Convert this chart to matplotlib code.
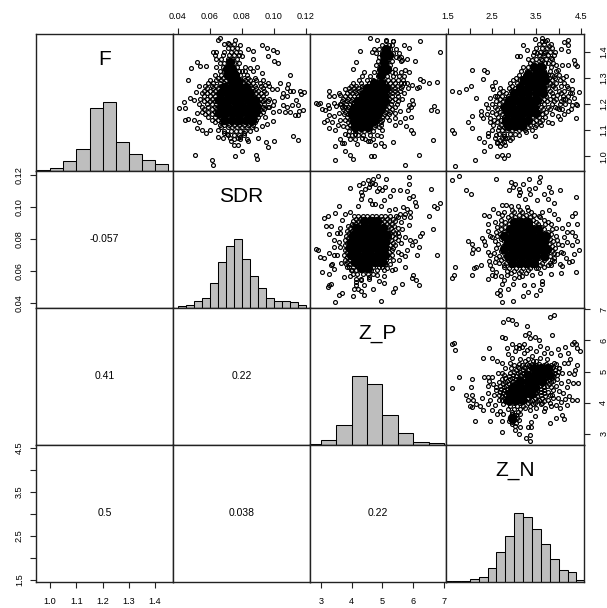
import matplotlib
matplotlib.use("Agg")
import matplotlib.pyplot as plt

plt.rcParams['font.family'] = ['Liberation Sans', 'DejaVu Sans']

names = ["F", "SDR", "Z_P", "Z_N"]
corr_f_sdr = "-0.057"
corr_f_zp = "0.41"
corr_f_zn = "0.5"
corr_sdr_zp = "0.22"
corr_sdr_zn = "0.038"
corr_zp_zn = "0.22"

# axis ranges
f_lim = (0.945, 1.468)
sdr_lim = (0.0369, 0.1225)
zp_lim = (2.65, 7.05)
zn_lim = (1.455, 4.57)

f_ticks = [1.0, 1.1, 1.2, 1.3, 1.4]
f_labels = ["1.0", "1.1", "1.2", "1.3", "1.4"]
sdr_ticks = [0.04, 0.06, 0.08, 0.10, 0.12]
sdr_labels = ["0.04", "0.06", "0.08", "0.10", "0.12"]
zp_ticks = [3, 4, 5, 6, 7]
zp_labels = ["3", "4", "5", "6", "7"]
zn_ticks = [1.5, 2.0, 2.5, 3.0, 3.5, 4.0, 4.5]
zn_labels = ["1.5", "", "2.5", "", "3.5", "", "4.5"]

# histograms
f_edges = [0.95, 1.0, 1.05, 1.1, 1.15, 1.2, 1.25, 1.3, 1.35, 1.4, 1.45]
f_counts = [2, 8, 30, 66, 186, 204, 86, 50, 33, 19]
sdr_edges = [0.04, 0.045, 0.05, 0.055, 0.06, 0.065, 0.07, 0.075, 0.08, 0.085,
             0.09, 0.095, 0.1, 0.105, 0.11, 0.115, 0.12]
sdr_counts = [5, 9, 20, 28, 72, 134, 183, 203, 144, 94, 58, 28, 20, 20, 17, 8]
zp_edges = [2.5, 3.0, 3.5, 4.0, 4.5, 5.0, 5.5, 6.0, 6.5, 7.0]
zp_counts = [3, 13, 60, 206, 182, 88, 36, 8, 5]
zn_edges = [1.4, 1.6, 1.8, 2.0, 2.2, 2.4, 2.6, 2.8, 3.0, 3.2, 3.4, 3.6, 3.8, 4.0, 4.2, 4.4, 4.6]
zn_counts = [1, 1, 2, 9, 15, 40, 89, 138, 207, 195, 160, 115, 69, 34, 28, 5]

# scatter: sparse points read one at a time, (x, y)
sdr_f_pts = [(.0663,1.452),(.0652,1.445),(.0756,1.445),(.0715,1.433),(.0788,1.426),(.084,1.410),(.0871,1.401),(.0923,1.426),
    (.0954,1.414),(.0996,1.407),(.1021,1.397),(.096,1.382),(.1002,1.363),(.1027,1.356),(.0798,1.384),(.0867,1.372),(.0621,1.397),
    (.0517,1.360),(.0538,1.346),(.0479,1.337),(.0575,1.344),(.0465,1.290),(.0533,1.267),(.0513,1.244),(.0475,1.223),(.05,1.214),
    (.044,1.206),(.0408,1.185),(.0444,1.185),(.0521,1.165),(.0446,1.140),(.0465,1.144),(.05,1.137),(.0533,1.130),(.0517,1.108),
    (.0552,1.102),(.0573,1.089),(.06,1.102),(.0648,1.073),(.0683,1.070),(.0506,1.005),(.0615,.984),(.0621,.965),(.0756,1.003),
    (.0885,1.006),(.0896,.990),(.0798,1.019),(.0777,1.045),(.095,1.054),(.096,1.036),(.0998,1.057),(.1117,1.079),(.1152,1.061),
    (.0902,1.069),(.0996,1.134),(.11,1.309),(.1038,1.280),(.109,1.276),(.1083,1.261),(.11,1.251),(.1121,1.248),(.1163,1.251),
    (.119,1.244),(.1169,1.239),(.1058,1.242),(.1079,1.229),(.1048,1.225),(.1138,1.213),(.111,1.197),(.1058,1.194),(.1083,1.188),
    (.1148,1.194),(.1183,1.176),(.1158,1.172),(.1131,1.159),(.1152,1.159),(.1069,1.168),(.11,1.168),(.1033,1.174),(.0996,1.168),
    (.0992,1.197),(.1017,1.255),(.0985,1.255),(.0965,1.280),(.0971,1.267),(.0944,1.274),(.0923,1.318),(.0892,1.341),(.0929,1.293),
    (.085,1.337),(.0819,1.325),(.0733,1.06),(.0752,1.045),(.0705,1.085),(.0785,1.075),(.084,1.06),(.0815,1.09),(.0888,1.105),
    (.0925,1.115),(.0955,1.125),(.0945,1.15),(.097,1.19),(.1,1.21),(.0648,1.10),(.0685,1.09),(.0725,1.07),(.0775,1.07)]
sdr_f_core = {
    1.43: [.069, .072, .075], 1.415: [.071, .074, .077], 1.40: [.064, .069, .073, .076, .079],
    1.385: [.063, .068, .072, .075, .078], 1.37: [.064, .067, .071, .074, .077], 1.355: [.066, .069, .072, .075, .078],
    1.34: [.064, .068, .071, .074, .077, .082], 1.325: [.066, .069, .072, .075, .078, .080, .087],
    1.31: [.063, .067, .070, .073, .076, .079, .083], 1.30: [.065, .068, .071, .074, .077, .081, .084, .088],
    1.29: [.060, .064, .067, .070, .073, .076, .079, .082, .085, .089],
    1.28: [.059, .062, .066, .069, .072, .075, .078, .081, .084, .087, .091],
    1.27: [.057, .061, .064, .067, .070, .073, .076, .079, .082, .085, .088, .092],
    1.26: [.058, .062, .065, .068, .071, .074, .077, .080, .083, .086, .089, .093],
    1.25: [.056, .060, .063, .066, .069, .072, .075, .078, .081, .084, .087, .090, .094],
    1.24: [.055, .058, .062, .065, .068, .071, .074, .077, .080, .083, .086, .089, .092, .095],
    1.23: [.056, .060, .063, .066, .069, .072, .075, .078, .081, .084, .087, .090, .093],
    1.22: [.054, .058, .061, .064, .067, .070, .073, .076, .079, .082, .085, .088, .091, .094, .097],
    1.21: [.056, .060, .063, .066, .069, .072, .075, .078, .081, .084, .087, .090, .093, .096],
    1.20: [.053, .058, .061, .064, .067, .070, .073, .076, .079, .082, .085, .088, .091, .094],
    1.19: [.055, .059, .063, .066, .069, .072, .075, .078, .081, .084, .087, .090, .093, .096],
    1.18: [.056, .061, .064, .067, .070, .073, .076, .079, .082, .085, .088, .091, .094],
    1.17: [.055, .059, .063, .066, .069, .072, .075, .078, .081, .084, .087, .090, .093],
    1.16: [.057, .061, .064, .067, .070, .073, .076, .079, .082, .085, .088, .091],
    1.15: [.059, .063, .066, .069, .072, .075, .078, .081, .084, .087, .090],
    1.14: [.061, .065, .068, .071, .074, .077, .080, .083, .086, .089],
    1.13: [.063, .067, .070, .073, .076, .079, .082, .085, .088],
    1.12: [.066, .069, .072, .075, .078, .081, .084, .087],
    1.11: [.067, .071, .074, .077, .080, .083, .086],
    1.095: [.069, .073, .076, .079, .082, .085], 1.08: [.071, .075, .078, .081], 1.065: [.075, .079, .083]}
# the overplotted black middle of each cloud, rows of y -> x
sdr_f_dense = {
    1.36: [.0725], 1.335: [.0735, .0705], 1.31: [.0715, .0755],
    1.285: [.0735, .0775], 1.265: [.069, .0735, .078, .0825], 1.24: [.067, .0715, .076, .0805, .085],
    1.215: [.0655, .07, .0745, .079, .0835, .088], 1.19: [.067, .0715, .076, .0805, .085, .0895],
    1.165: [.0655, .07, .0745, .079, .0835, .088], 1.14: [.069, .0735, .078, .0825, .086]}

zp_f_pts = [(4.59,1.452),(4.84,1.445),(5.12,1.445),(5.34,1.442),(6.23,1.442),(6.86,1.397),(5.70,1.426),(5.88,1.414),(4.26,1.401),
    (4.67,1.397),(4.13,1.360),(4.04,1.335),(5.80,1.372),(6.07,1.363),(6.23,1.295),(6.31,1.286),(6.51,1.280),(6.79,1.284),(6.12,1.261),
    (3.26,1.251),(3.26,1.229),(3.43,1.229),(3.59,1.242),(3.78,1.255),(3.64,1.233),(2.83,1.204),(2.99,1.204),(2.92,1.201),(3.05,1.181),
    (3.24,1.197),(3.43,1.204),(3.13,1.176),(3.28,1.185),(3.48,1.191),(3.10,1.130),(3.21,1.138),(3.37,1.130),(3.28,1.108),(3.45,1.102),
    (3.26,1.159),(3.43,1.155),(3.59,1.165),(3.64,1.066),(3.78,1.087),(3.69,1.051),(3.45,1.038),(3.75,1.051),(3.80,1.019),(3.94,1.006),
    (4.04,.990),(3.45,.984),(4.18,1.047),(4.34,1.070),(4.53,1.057),(4.61,1.057),(4.77,1.042),(4.97,1.076),(4.94,1.051),(4.99,1.102),
    (5.33,1.056),(4.64,1.003),(4.72,1.003),(5.74,.966),(6.18,1.005),(6.66,1.064),(5.40,1.121),(5.58,1.130),(5.77,1.115),(5.94,1.102),
    (5.98,1.089),(5.42,1.146),(5.74,1.146),(5.92,1.149),(6.59,1.178),(6.69,1.191),(6.76,1.171),(5.96,1.216),(5.87,1.197),(6.01,1.201),
    (5.83,1.178),(5.94,1.188),(5.58,1.172),(5.42,1.165),(6.18,1.265),(5.74,1.331),(5.85,1.321),(5.42,1.318),(5.53,1.375),(5.64,1.366),
    (5.96,1.274),(5.69,1.280),(5.05,1.04),(3.55,1.12),(3.62,1.14),(3.7,1.19),(3.62,1.20),(3.72,1.115),(3.9,1.08),(4.1,1.085)]
zp_f_core = {
    1.44: [5.12, 5.34], 1.425: [5.0, 5.2, 5.32], 1.41: [4.72, 4.9, 5.08, 5.25, 5.45], 1.395: [4.78, 5.0, 5.15, 5.35, 5.55],
    1.38: [4.9, 5.05, 5.2, 5.45, 5.62], 1.365: [4.85, 5.0, 5.15, 5.3, 5.6], 1.35: [4.8, 4.95, 5.1, 5.25], 1.335: [4.9, 5.05, 5.2, 5.4],
    1.32: [4.4, 4.72, 4.85, 5.0, 5.15, 5.3, 5.6], 1.305: [4.35, 4.6, 4.85, 5.0, 5.15, 5.35, 5.55, 5.7],
    1.29: [4.25, 4.5, 4.7, 4.88, 5.02, 5.18, 5.35, 5.5, 5.68], 1.28: [4.05, 4.3, 4.55, 4.75, 4.92, 5.08, 5.25, 5.42, 5.6, 5.8],
    1.27: [3.98, 4.15, 4.35, 4.55, 4.7, 4.85, 5.0, 5.15, 5.3, 5.48, 5.65],
    1.26: [3.92, 4.08, 4.22, 4.38, 4.52, 4.66, 4.8, 4.95, 5.1, 5.25, 5.42, 5.6, 5.82],
    1.25: [3.95, 4.1, 4.25, 4.4, 4.55, 4.68, 4.82, 4.96, 5.1, 5.26, 5.42, 5.58],
    1.24: [3.85, 4.0, 4.14, 4.28, 4.42, 4.56, 4.7, 4.84, 4.98, 5.14, 5.3, 5.48, 5.7],
    1.23: [3.8, 3.95, 4.08, 4.2, 4.32, 4.45, 4.58, 4.72, 4.86, 5.0, 5.15, 5.32, 5.5],
    1.22: [3.72, 3.88, 4.02, 4.14, 4.26, 4.38, 4.5, 4.62, 4.76, 4.9, 5.05, 5.22, 5.4, 5.65],
    1.21: [3.7, 3.85, 3.98, 4.1, 4.22, 4.34, 4.46, 4.58, 4.7, 4.84, 4.98, 5.14, 5.3, 5.5],
    1.20: [3.65, 3.82, 3.95, 4.06, 4.18, 4.3, 4.42, 4.54, 4.66, 4.8, 4.94, 5.1, 5.28, 5.48],
    1.19: [3.78, 3.9, 4.02, 4.14, 4.26, 4.38, 4.5, 4.62, 4.76, 4.9, 5.05, 5.22, 5.4],
    1.18: [3.72, 3.86, 3.98, 4.1, 4.22, 4.34, 4.46, 4.58, 4.7, 4.84, 4.98, 5.12, 5.3],
    1.17: [3.8, 3.94, 4.06, 4.18, 4.3, 4.42, 4.54, 4.66, 4.8, 4.94, 5.1, 5.26],
    1.16: [3.75, 3.9, 4.02, 4.14, 4.26, 4.38, 4.5, 4.62, 4.76, 4.9, 5.04, 5.2],
    1.15: [3.85, 3.98, 4.1, 4.22, 4.34, 4.46, 4.58, 4.72, 4.86, 5.0, 5.15],
    1.14: [3.8, 3.94, 4.06, 4.18, 4.3, 4.42, 4.54, 4.68, 4.82, 5.0, 5.2],
    1.13: [3.88, 4.0, 4.14, 4.26, 4.38, 4.5, 4.64, 4.8, 4.95],
    1.12: [3.94, 4.08, 4.2, 4.34, 4.46, 4.6, 4.76, 4.95],
    1.11: [3.85, 4.02, 4.16, 4.3, 4.42, 4.56, 4.72, 4.9],
    1.095: [3.92, 4.1, 4.25, 4.4, 4.55, 4.7], 1.08: [4.0, 4.2, 4.38, 4.6, 4.82], 1.065: [3.95, 4.1, 4.45, 4.7]}
zp_f_dense = {
    1.41: [5.12], 1.385: [5.05, 5.2], 1.36: [5.05], 1.335: [5.0, 5.15], 1.31: [4.95],
    1.28: [4.72, 4.95], 1.26: [4.5, 4.72, 4.94, 5.12], 1.235: [4.38, 4.6, 4.82, 5.04],
    1.21: [4.2, 4.42, 4.64, 4.86, 5.08], 1.185: [4.08, 4.3, 4.52, 4.74, 4.96], 1.16: [4.0, 4.2, 4.42, 4.64, 4.86],
    1.135: [4.08, 4.3, 4.52, 4.72], 1.11: [4.12, 4.32, 4.54]}

zn_f_pts = [(1.59,1.251),(1.76,1.244),(1.91,1.255),(2.02,1.267),(2.05,1.331),(2.33,1.328),(2.39,1.321),(2.30,1.295),(2.49,1.270),
    (2.57,1.283),(2.52,1.255),(2.15,1.221),(1.59,1.102),(1.64,1.089),(1.67,.964),(2.11,.984),(1.96,1.130),(2.06,1.107),(2.06,1.155),
    (2.26,1.172),(2.26,1.159),(2.29,1.146),(2.20,1.071),(2.33,1.054),(2.33,1.019),(2.45,1.038),(2.42,1.076),(2.40,1.089),(2.61,1.003),
    (2.73,1.006),(2.77,.994),(2.86,1.006),(2.57,1.070),(2.68,1.038),(2.79,1.045),(2.91,1.064),(3.10,1.083),(3.27,1.093),(3.46,1.079),
    (3.61,1.121),(3.86,1.127),(3.98,1.155),(4.03,1.143),(4.40,1.146),(4.46,1.244),(4.41,1.195),(3.06,1.384),(3.14,1.384),(3.20,1.426),
    (3.29,1.407),(3.46,1.448),(3.63,1.452),(3.73,1.445),(4.20,1.445),(4.12,1.435),(4.21,1.424),(4.22,1.401),(4.05,1.410),(4.35,1.369),
    (4.37,1.354),(4.42,1.344),(4.20,1.350),(4.08,1.350),(3.93,1.350),(3.98,1.328),(4.29,1.293),(4.16,1.305),(4.31,1.255),(4.20,1.229),
    (4.35,1.223),(4.24,1.210),(4.31,1.197),(4.20,1.174),(4.08,1.181),(3.97,1.185),(3.89,1.210),(3.97,1.235),(4.05,1.267),(3.86,1.274),
    (3.89,1.305),(3.76,1.312),(3.91,1.397),(3.78,1.420),(3.67,1.394),(3.52,1.394),(3.40,1.369),(3.70,1.356),(3.82,1.375),(3.63,1.369),
    (2.61,1.229),(2.45,1.223),(2.42,1.185),(2.45,1.146),(2.53,1.121),(2.64,1.102),(2.76,1.076),(2.67,1.064),(2.72,1.051),(2.36,1.20),
    (2.38,1.16),(2.46,1.13),(2.5,1.10),(2.6,1.08),(2.62,1.05),(2.8,1.07),(4.1,1.22),(4.15,1.20),(4.28,1.18),(4.12,1.16),(4.3,1.24),(4.38,1.20)]
zn_f_core = {
    1.44: [3.62, 3.7], 1.43: [3.55, 3.68, 3.82], 1.415: [3.5, 3.62, 3.74, 3.86], 1.40: [3.45, 3.58, 3.7, 3.8],
    1.385: [3.42, 3.56, 3.66, 3.76, 3.9], 1.37: [3.3, 3.5, 3.6, 3.72, 3.84], 1.355: [3.35, 3.48, 3.6, 3.75, 3.88],
    1.34: [3.2, 3.32, 3.44, 3.56, 3.68, 3.82], 1.325: [3.15, 3.28, 3.4, 3.52, 3.66, 3.8, 3.94], 1.31: [3.1, 3.24, 3.36, 3.48, 3.6, 3.72, 3.85, 4.0],
    1.30: [3.05, 3.18, 3.3, 3.42, 3.54, 3.66, 3.78, 3.92, 4.1], 1.29: [2.98, 3.12, 3.24, 3.36, 3.48, 3.6, 3.72, 3.86, 4.02],
    1.28: [2.9, 3.06, 3.18, 3.3, 3.42, 3.54, 3.66, 3.8, 3.95, 4.12], 1.27: [2.95, 3.1, 3.22, 3.34, 3.46, 3.58, 3.72, 3.88, 4.18],
    1.26: [2.68, 2.88, 3.02, 3.14, 3.26, 3.38, 3.5, 3.62, 3.76, 3.92, 4.22], 1.25: [2.75, 2.92, 3.06, 3.18, 3.3, 3.42, 3.54, 3.66, 3.8, 4.0, 4.12],
    1.24: [2.65, 2.82, 2.96, 3.08, 3.2, 3.32, 3.44, 3.56, 3.7, 3.84, 4.05, 4.25], 1.23: [2.56, 2.72, 2.86, 2.98, 3.1, 3.22, 3.34, 3.46, 3.58, 3.72, 3.88, 4.1],
    1.22: [2.68, 2.8, 2.92, 3.04, 3.16, 3.28, 3.4, 3.52, 3.66, 3.8, 3.95, 4.15], 1.21: [2.6, 2.74, 2.86, 2.98, 3.1, 3.22, 3.34, 3.46, 3.6, 3.74, 4.05],
    1.20: [2.5, 2.66, 2.8, 2.92, 3.04, 3.16, 3.28, 3.4, 3.54, 3.68, 3.85, 4.02], 1.19: [2.56, 2.72, 2.84, 2.96, 3.08, 3.2, 3.32, 3.46, 3.6, 3.75, 3.92],
    1.18: [2.62, 2.76, 2.88, 3.0, 3.12, 3.24, 3.36, 3.5, 3.64, 3.8, 4.0], 1.17: [2.5, 2.68, 2.8, 2.92, 3.04, 3.16, 3.28, 3.42, 3.56, 3.72],
    1.16: [2.58, 2.72, 2.86, 2.98, 3.1, 3.22, 3.34, 3.48, 3.62, 3.85], 1.15: [2.64, 2.78, 2.9, 3.02, 3.14, 3.26, 3.4, 3.55, 3.7],
    1.14: [2.55, 2.7, 2.84, 2.96, 3.08, 3.2, 3.34, 3.48, 3.62], 1.13: [2.62, 2.76, 2.9, 3.02, 3.14, 3.28, 3.42, 3.58, 3.75],
    1.12: [2.7, 2.84, 2.96, 3.08, 3.22, 3.36, 3.5], 1.11: [2.66, 2.78, 2.9, 3.02, 3.16, 3.3, 3.46],
    1.10: [2.72, 2.84, 2.96, 3.1, 3.24, 3.4], 1.085: [2.66, 2.78, 2.9, 3.02], 1.07: [2.72, 2.84, 2.96], 1.055: [2.62, 2.78]}
zn_f_dense = {
    1.34: [3.45, 3.6], 1.315: [3.32, 3.48, 3.64], 1.29: [3.22, 3.38, 3.54, 3.7], 1.265: [3.14, 3.3, 3.46, 3.62],
    1.24: [3.0, 3.16, 3.32, 3.48, 3.64], 1.215: [2.88, 3.04, 3.2, 3.36, 3.52], 1.19: [2.8, 2.96, 3.12, 3.28, 3.44],
    1.165: [2.86, 3.02, 3.18, 3.34, 3.5], 1.14: [2.82, 2.98, 3.14, 3.3], 1.115: [2.86, 3.02, 3.18]}

zp_sdr_pts = [(4.86,.1190),(5.85,.1185),(5.12,.1171),(4.69,.1175),(4.54,.1169),(4.37,.1150),(4.23,.1138),(3.96,.1119),(5.88,.1144),
    (6.57,.1113),(5.08,.1123),(5.33,.1106),(5.58,.1106),(5.80,.1096),(5.98,.1065),(5.85,.1056),(6.05,.1029),(6.09,.1002),(6.86,.1023),
    (6.69,.1004),(6.77,.0990),(6.52,.0940),(6.66,.0860),(6.28,.0838),(6.23,.0817),(6.79,.0698),(6.18,.0748),(6.12,.0696),(6.07,.0785),
    (5.74,.0623),(5.98,.0575),(5.96,.0554),(6.10,.0540),(6.18,.0508),(5.64,.0515),(5.40,.0492),(5.33,.0469),(4.97,.0410),(4.69,.0483),
    (4.40,.0508),(4.40,.0448),(4.29,.0473),(4.21,.0488),(4.04,.0440),(4.07,.0485),(3.69,.0460),(3.59,.0448),(3.45,.0406),(3.32,.0519),
    (3.26,.0508),(3.22,.0498),(3.26,.0577),(3.05,.0592),(3.75,.0560),(3.96,.0569),(4.13,.0529),(4.13,.0508),(4.88,.0536),(5.06,.0523),
    (4.83,.0575),(5.04,.0569),(2.83,.0738),(2.90,.0731),(2.98,.0686),(3.10,.0681),(3.26,.0710),(3.37,.0640),(3.32,.0633),(3.43,.0613),
    (3.67,.0648),(3.43,.0696),(3.53,.0696),(3.43,.0748),(3.43,.0790),(3.59,.0779),(3.64,.0748),(3.10,.0931),(3.24,.0940),(3.45,.0960),
    (3.59,.1004),(3.78,.0952),(3.69,.0915),(3.96,.0967),(4.21,.1004),(4.07,.0940),(3.16,.0877),(3.32,.0877),(3.26,.0831),(3.64,.0869),
    (3.53,.0835),(3.64,.0835),(4.29,.1092),(4.34,.1071),(4.29,.1050),(4.56,.1123),(4.83,.1098),(5.06,.1044),(4.67,.1019),(4.77,.1019),
    (4.95,.1002),(4.61,.1144),(4.61,.1040),(5.24,.1065),(5.20,.0977),(5.42,.0988),(5.66,.0998),(5.80,.0988),(5.91,.0967),(5.91,.0935),
    (5.58,.0956),(5.74,.0956),(5.69,.0935),(5.85,.0883),(5.64,.0863),(5.74,.0810),(5.91,.0790),(5.96,.0758),(5.80,.0727),(5.74,.0690),
    (5.53,.0665),(5.42,.0613),(5.26,.0644),(5.04,.0602),(4.56,.0560),(4.29,.0540),(4.02,.0602),(3.86,.0623),(4.65,.115),(4.75,.114),
    (4.9,.112),(5.0,.1105),(4.45,.111),(5.5,.0935),(5.6,.0905),(5.5,.0835),(5.6,.0775),(5.5,.072),(5.62,.0705),(5.15,.0615),(5.3,.0605)]
zp_sdr_core = {
    .094: [4.2, 4.38, 4.5, 4.65, 4.8, 4.95, 5.1, 5.25, 5.45], .0925: [4.15, 4.28, 4.42, 4.56, 4.7, 4.85, 5.0, 5.15, 5.35],
    .091: [4.05, 4.2, 4.34, 4.48, 4.62, 4.76, 4.9, 5.05, 5.22, 5.42], .0895: [4.0, 4.14, 4.28, 4.42, 4.56, 4.7, 4.84, 4.98, 5.14, 5.3],
    .088: [3.9, 4.06, 4.2, 4.34, 4.48, 4.62, 4.76, 4.9, 5.04, 5.2, 5.38], .0865: [3.95, 4.1, 4.24, 4.38, 4.52, 4.66, 4.8, 4.94, 5.1, 5.28, 5.5],
    .085: [3.85, 4.02, 4.16, 4.3, 4.44, 4.58, 4.72, 4.86, 5.0, 5.16, 5.34], .0835: [3.92, 4.06, 4.2, 4.34, 4.48, 4.62, 4.76, 4.9, 5.06, 5.24, 5.42],
    .082: [3.82, 3.98, 4.12, 4.26, 4.4, 4.54, 4.68, 4.82, 4.96, 5.12, 5.3, 5.55], .0805: [3.88, 4.04, 4.18, 4.32, 4.46, 4.6, 4.74, 4.88, 5.02, 5.2, 5.4],
    .079: [3.78, 3.94, 4.1, 4.24, 4.38, 4.52, 4.66, 4.8, 4.94, 5.1, 5.28, 5.5], .0775: [3.84, 4.0, 4.14, 4.28, 4.42, 4.56, 4.7, 4.84, 4.98, 5.16, 5.36],
    .076: [3.8, 3.94, 4.08, 4.22, 4.36, 4.5, 4.64, 4.78, 4.92, 5.06, 5.24, 5.42], .0745: [3.86, 4.02, 4.16, 4.3, 4.44, 4.58, 4.72, 4.86, 5.0, 5.18, 5.36],
    .073: [3.78, 3.96, 4.1, 4.24, 4.38, 4.52, 4.66, 4.8, 4.94, 5.1, 5.3], .0715: [3.84, 4.02, 4.16, 4.3, 4.44, 4.58, 4.72, 4.86, 5.02, 5.2],
    .07: [3.75, 3.92, 4.08, 4.22, 4.36, 4.5, 4.64, 4.78, 4.92, 5.1, 5.32], .0685: [3.85, 4.0, 4.14, 4.28, 4.42, 4.56, 4.7, 4.84, 5.0, 5.2],
    .067: [3.78, 3.94, 4.08, 4.22, 4.36, 4.5, 4.64, 4.78, 4.94, 5.12, 5.36], .0655: [3.86, 4.02, 4.16, 4.3, 4.44, 4.6, 4.76, 4.94, 5.1],
    .064: [3.82, 3.96, 4.1, 4.26, 4.4, 4.56, 4.72, 4.9, 5.1], .0625: [3.92, 4.06, 4.22, 4.36, 4.52, 4.68, 4.88, 5.0],
    .0605: [3.98, 4.14, 4.3, 4.46, 4.62, 4.82], .058: [4.04, 4.18, 4.36, 4.54, 4.7], .055: [4.14, 4.3, 4.55]}
zp_sdr_dense = {
    .091: [4.4, 4.62, 4.84], .0868: [4.15, 4.37, 4.59, 4.81, 5.03], .0825: [4.05, 4.27, 4.49, 4.71, 4.93, 5.15],
    .0782: [3.98, 4.2, 4.42, 4.64, 4.86, 5.08], .074: [3.95, 4.17, 4.39, 4.61, 4.83, 5.05], .0698: [3.98, 4.2, 4.42, 4.64, 4.86, 5.08],
    .0655: [4.1, 4.32, 4.54, 4.76, 4.98], .0615: [4.3, 4.52]}

zn_sdr_pts = [(1.59,.1165),(1.76,.1190),(1.91,.1102),(2.02,.1081),(2.58,.1171),(3.33,.1171),(3.59,.1185),(3.55,.1154),(2.93,.1154),
    (2.89,.1106),(3.02,.1144),(3.20,.1144),(2.97,.1123),(3.10,.1113),(3.14,.1092),(3.10,.1071),(3.33,.1113),(3.46,.1119),(3.36,.1081),
    (3.25,.1050),(3.52,.1040),(3.67,.1081),(3.79,.1123),(3.83,.1092),(4.03,.1102),(3.76,.1046),(3.89,.1023),(4.40,.1063),(4.37,.0963),
    (4.29,.0940),(4.41,.0890),(4.22,.0890),(4.08,.0869),(4.18,.0842),(4.31,.0842),(4.37,.0817),(4.42,.0785),(4.31,.0758),(4.46,.0727),
    (4.35,.0702),(4.16,.0681),(4.23,.0654),(4.31,.0660),(4.02,.0644),(4.08,.0627),(3.83,.0581),(4.05,.0585),(4.40,.0590),(3.63,.0535),
    (3.63,.0515),(3.59,.0481),(3.50,.0446),(3.42,.0508),(3.30,.0467),(3.20,.0442),(3.21,.0508),(2.98,.0410),(2.72,.0404),(2.68,.0446),
    (2.61,.0460),(2.67,.0481),(2.72,.0515),(2.85,.0488),(2.98,.0519),(2.42,.0550),(2.49,.0571),(2.57,.0567),(2.04,.0573),(1.59,.0554),
    (1.64,.0573),(1.67,.0623),(2.10,.0617),(2.15,.0623),(2.26,.0633),(2.45,.0633),(1.96,.0783),(2.06,.0765),(2.08,.0738),(2.06,.0710),
    (2.19,.0733),(2.27,.0806),(2.33,.0785),(2.34,.0758),(2.49,.0810),(2.42,.0894),(2.33,.0950),(2.44,.0940),(2.53,.0988),(2.64,.0963),
    (2.57,.0904),(2.72,.1008),(2.81,.1008),(2.93,.1002),(3.08,.1002),(3.29,.0998),(3.55,.0940),(3.89,.0956),(3.98,.0925),(3.82,.0894),
    (3.97,.0790),(4.08,.0758),(3.97,.0706),(3.82,.0633),(3.59,.0585),(3.40,.0571),(3.10,.0560),(2.83,.0571),(2.76,.0623),(2.57,.0654),
    (2.45,.0696),(2.42,.085),(2.46,.082),(2.4,.072),(2.44,.066),(2.5,.061),(2.58,.059),(2.7,.057),(2.78,.054),(3.0,.0555),(3.18,.0565),
    (3.32,.0605),(3.5,.0615),(3.68,.0625),(3.9,.066),(4.05,.072),(4.18,.078),(4.12,.081),(3.95,.087),(3.78,.098)]
zn_sdr_core = {
    .098: [2.95, 3.12, 3.3], .0965: [2.78, 3.0, 3.18, 3.38, 3.62], .095: [2.72, 2.92, 3.1, 3.26, 3.44], .0935: [2.85, 3.02, 3.2, 3.36, 3.58],
    .092: [2.7, 2.9, 3.08, 3.24, 3.42, 3.66], .0905: [2.8, 2.98, 3.14, 3.3, 3.5, 3.75], .089: [2.7, 2.88, 3.04, 3.2, 3.36, 3.54, 3.7],
    .0875: [2.62, 2.8, 2.96, 3.12, 3.28, 3.44, 3.6], .086: [2.7, 2.86, 3.02, 3.18, 3.34, 3.5, 3.66, 3.86],
    .0845: [2.6, 2.78, 2.94, 3.1, 3.26, 3.42, 3.58, 3.76], .083: [2.68, 2.84, 3.0, 3.16, 3.32, 3.48, 3.64, 3.82],
    .0815: [2.62, 2.76, 2.92, 3.08, 3.24, 3.4, 3.56, 3.72, 3.94], .08: [2.7, 2.84, 3.0, 3.16, 3.32, 3.48, 3.64, 3.8],
    .0785: [2.56, 2.76, 2.9, 3.06, 3.22, 3.38, 3.54, 3.7, 3.88], .077: [2.64, 2.82, 2.98, 3.14, 3.3, 3.46, 3.62, 3.78, 3.98],
    .0755: [2.74, 2.9, 3.06, 3.22, 3.38, 3.54, 3.7, 3.86], .074: [2.6, 2.8, 2.96, 3.12, 3.28, 3.44, 3.6, 3.76, 3.92],
    .0725: [2.7, 2.88, 3.04, 3.2, 3.36, 3.52, 3.68, 3.84], .071: [2.54, 2.76, 2.94, 3.1, 3.26, 3.42, 3.58, 3.74, 3.9, 4.1],
    .0695: [2.66, 2.84, 3.0, 3.16, 3.32, 3.48, 3.64, 3.8], .068: [2.6, 2.76, 2.92, 3.08, 3.24, 3.4, 3.56, 3.72, 3.9],
    .0665: [2.7, 2.86, 3.02, 3.18, 3.34, 3.5, 3.66, 3.84], .065: [2.66, 2.82, 2.98, 3.14, 3.3, 3.46, 3.62, 3.8],
    .0635: [2.76, 2.92, 3.08, 3.24, 3.4, 3.58, 3.76], .062: [2.88, 3.04, 3.2, 3.36, 3.54], .06: [2.84, 3.0, 3.16], .0585: [2.92, 3.1, 3.26]}
zn_sdr_dense = {
    .0905: [3.0, 3.16, 3.32], .0862: [2.9, 3.06, 3.22, 3.38, 3.54], .082: [2.78, 2.94, 3.1, 3.26, 3.42, 3.58, 3.72],
    .0778: [2.86, 3.02, 3.18, 3.34, 3.5, 3.66], .0735: [2.78, 2.94, 3.1, 3.26, 3.42, 3.58, 3.74], .0692: [2.86, 3.02, 3.18, 3.34, 3.5, 3.66],
    .065: [2.96, 3.12, 3.28, 3.44]}

zn_zp_pts = [(1.59,5.89),(1.64,5.93),(1.67,5.69),(1.76,4.83),(1.59,4.48),(2.74,6.60),(2.85,6.70),(2.94,6.65),(3.03,6.52),(3.80,6.76),
    (3.90,6.82),(3.29,6.45),(2.73,6.12),(2.79,6.09),(3.33,6.23),(3.25,6.17),(3.86,6.17),(3.46,6.11),(3.35,6.07),(3.55,6.00),(2.44,5.74),
    (2.30,5.44),(2.49,5.44),(4.14,5.80),(4.35,5.96),(4.39,5.87),(4.41,5.77),(4.47,5.66),(4.29,5.87),(3.98,5.73),(4.03,5.52),(4.22,5.58),
    (4.26,5.41),(4.11,5.28),(4.21,5.28),(4.42,5.20),(4.36,5.05),(4.35,4.91),(4.44,4.64),(4.33,4.64),(4.24,4.96),(4.08,4.96),(4.20,4.71),
    (4.05,4.64),(3.93,4.53),(4.01,4.37),(4.31,4.08),(4.41,4.08),(4.23,4.21),(4.18,3.91),(4.05,4.03),(3.95,3.94),(4.02,3.84),(4.08,3.59),
    (3.95,3.51),(4.12,3.49),(3.80,3.35),(3.46,3.57),(3.38,3.39),(3.30,3.22),(3.38,3.22),(3.36,2.95),(3.27,2.85),(3.36,2.78),(3.10,2.98),
    (3.02,3.11),(3.14,3.21),(2.72,3.06),(2.45,3.41),(2.72,3.41),(2.11,3.41),(2.30,3.75),(2.00,3.89),(1.91,4.24),(1.96,4.10),(2.06,4.24),
    (2.08,4.10),(2.06,3.86),(2.15,3.96),(2.24,3.89),(2.27,4.16),(2.02,4.51),(2.05,4.77),(2.33,4.82),(2.40,4.82),(2.49,4.82),(2.44,4.69),
    (2.42,4.53),(2.53,4.59),(2.40,4.32),(2.45,4.10),(2.42,3.96),(2.49,3.78),(2.61,3.62),(2.74,3.62),(2.57,3.94),(2.68,3.73),(2.89,3.41),
    (2.95,3.32),(3.02,3.25),(2.92,3.57),(3.12,3.62),(2.61,5.34),(2.72,5.28),(2.64,4.96),(2.72,4.96),(2.83,5.77),(2.95,5.87),(3.10,5.85),
    (3.21,5.87),(3.36,5.77),(3.59,5.82),(3.74,5.77),(3.82,5.60),(2.87,5.55),(3.02,5.66),(3.21,5.60),(3.40,5.50),(3.59,5.44),(3.74,5.39),
    (2.91,5.28),(3.14,5.39),(3.89,5.28),(4.01,5.12),(2.80,5.12),(3.67,3.73),(3.48,3.84),(3.36,3.75),(3.25,3.84),(3.82,3.89),(3.86,4.26),
    (2.9,3.5),(2.98,3.42),(2.96,3.38),(3.04,3.35),(3.06,3.5),(2.96,3.62),(3.1,5.75),(3.28,5.7),(3.05,5.8),(3.18,5.78),(3.5,5.65),(3.68,5.6),
    (2.95,5.45),(3.3,5.4),(4.18,4.5),(4.1,4.3),(4.15,4.12),(3.98,4.15),(3.8,3.98),(3.6,3.95),(3.7,3.82),(3.42,3.95),(2.55,4.25),(2.6,4.4),(2.65,4.1),(2.75,3.95)]
zn_zp_core = {
    5.35: [3.25, 3.42, 3.5], 5.25: [3.1, 3.28, 3.4, 3.55, 3.72, 3.95], 5.2: [3.0, 3.18, 3.34, 3.5, 3.66, 3.82],
    5.15: [3.08, 3.22, 3.36, 3.5, 3.62, 3.74, 3.88], 5.1: [2.92, 3.1, 3.25, 3.38, 3.5, 3.62, 3.74, 3.86, 4.0],
    5.05: [3.05, 3.2, 3.32, 3.44, 3.56, 3.68, 3.8, 3.92], 5.0: [3.0, 3.14, 3.26, 3.38, 3.5, 3.62, 3.74, 3.86, 3.98],
    4.95: [2.9, 3.08, 3.2, 3.32, 3.44, 3.56, 3.68, 3.8, 3.92], 4.9: [2.78, 2.98, 3.12, 3.24, 3.36, 3.48, 3.6, 3.72, 3.84, 3.96],
    4.85: [2.88, 3.04, 3.16, 3.28, 3.4, 3.52, 3.64, 3.76, 3.88], 4.8: [2.8, 2.96, 3.1, 3.22, 3.34, 3.46, 3.58, 3.7, 3.84],
    4.75: [2.72, 2.9, 3.04, 3.16, 3.28, 3.4, 3.52, 3.64, 3.78, 3.96], 4.7: [2.84, 2.98, 3.1, 3.22, 3.34, 3.46, 3.58, 3.72, 3.88],
    4.65: [2.66, 2.8, 2.94, 3.06, 3.18, 3.3, 3.42, 3.54, 3.68, 3.82], 4.6: [2.74, 2.88, 3.0, 3.12, 3.24, 3.36, 3.48, 3.62, 3.78],
    4.55: [2.68, 2.82, 2.96, 3.08, 3.2, 3.32, 3.44, 3.58, 3.74], 4.5: [2.6, 2.76, 2.9, 3.02, 3.14, 3.26, 3.38, 3.52, 3.66, 3.82],
    4.45: [2.7, 2.84, 2.96, 3.08, 3.2, 3.32, 3.46, 3.6], 4.4: [2.76, 2.9, 3.02, 3.14, 3.26, 3.38, 3.52, 3.66, 3.88],
    4.35: [2.68, 2.84, 2.96, 3.08, 3.2, 3.32, 3.46, 3.6, 3.76], 4.3: [2.74, 2.88, 3.0, 3.12, 3.24, 3.36, 3.5, 3.66],
    4.25: [2.66, 2.8, 2.94, 3.06, 3.18, 3.3, 3.44, 3.6, 3.8], 4.2: [2.72, 2.86, 2.98, 3.1, 3.22, 3.36, 3.52, 3.7],
    4.15: [2.78, 2.92, 3.04, 3.16, 3.3, 3.46, 3.62, 3.88], 4.1: [2.72, 2.86, 2.98, 3.1, 3.24, 3.4, 3.56, 3.76],
    4.05: [2.8, 2.94, 3.06, 3.2, 3.36, 3.52, 3.68], 4.0: [2.88, 3.0, 3.14, 3.3, 3.46, 3.62], 3.9: [2.9, 3.06, 3.2, 3.36],
    3.8: [2.86, 3.0, 3.12], 3.7: [2.96, 3.08], 3.6: [3.0, 3.05], 3.45: [2.92, 3.1]}
zn_zp_dense = {
    5.1: [3.44, 3.6, 3.76], 4.9: [3.3, 3.46, 3.62, 3.78], 4.7: [3.14, 3.3, 3.46, 3.62], 4.5: [2.98, 3.14, 3.3, 3.46],
    4.3: [2.9, 3.06, 3.22, 3.38], 4.1: [2.86, 3.02, 3.18], 3.5: [2.96]}


def panel_xy(pts, core):
    xs = [p[0] for p in pts]
    ys = [p[1] for p in pts]
    for y_val, x_vals in core.items():
        for x_val in x_vals:
            xs.append(x_val)
            ys.append(y_val)
    return xs, ys


W, H = 607, 608
x_bounds = [35.7, 173, 310, 445.5, 584]
y_bounds = [33.7, 170.7, 307.7, 444.7, 581.7]

fig = plt.figure(figsize=(W / 100, H / 100), dpi=100)
axes = [[None] * 4 for _ in range(4)]
for r in range(4):
    for c in range(4):
        ax = fig.add_axes([x_bounds[c] / W, 1 - y_bounds[r + 1] / H,
                           (x_bounds[c + 1] - x_bounds[c]) / W,
                           (y_bounds[r + 1] - y_bounds[r]) / H])
        ax.set_xticks([])
        ax.set_yticks([])
        for s in ax.spines.values():
            s.set_linewidth(1.0)
            s.set_color('#222222')
        axes[r][c] = ax

lims = [f_lim, sdr_lim, zp_lim, zn_lim]

# histograms on the diagonal
hists = [(f_edges, f_counts), (sdr_edges, sdr_counts), (zp_edges, zp_counts), (zn_edges, zn_counts)]
for i, (edges, counts) in enumerate(hists):
    ax = axes[i][i]
    widths = [edges[k + 1] - edges[k] for k in range(len(counts))]
    ax.bar(edges[:-1], counts, width=widths, align='edge', color='#BEBEBE',
           edgecolor='black', linewidth=0.75)
    ax.set_xlim(lims[i])
    ax.set_ylim(0, 2.0 * max(counts))
    ax.text(0.5, 0.81, names[i], transform=ax.transAxes, fontsize=15, ha='center', va='center')

# scatter in the upper triangle
scatter = [(0, 1, sdr_f_pts, sdr_f_core, sdr_f_dense), (0, 2, zp_f_pts, zp_f_core, zp_f_dense),
           (0, 3, zn_f_pts, zn_f_core, zn_f_dense), (1, 2, zp_sdr_pts, zp_sdr_core, zp_sdr_dense),
           (1, 3, zn_sdr_pts, zn_sdr_core, zn_sdr_dense), (2, 3, zn_zp_pts, zn_zp_core, zn_zp_dense)]
for r, c, pts, core, dense in scatter:
    ax = axes[r][c]
    xs, ys = panel_xy(pts, core)
    ax.plot(xs, ys, linestyle='none', marker='o', ms=2.8, mfc='none', mec='black', mew=0.85, clip_on=False)
    xs, ys = panel_xy([], dense)
    ax.plot(xs, ys, linestyle='none', marker='o', ms=6.8, mfc='black', mec='black', mew=0)
    ax.set_xlim(lims[c])
    ax.set_ylim(lims[r])

# correlations in the lower triangle
corrs = [(1, 0, corr_f_sdr), (2, 0, corr_f_zp), (3, 0, corr_f_zn),
         (2, 1, corr_sdr_zp), (3, 1, corr_sdr_zn), (3, 2, corr_zp_zn)]
for r, c, txt in corrs:
    axes[r][c].text(0.5, 0.5, txt, transform=axes[r][c].transAxes, fontsize=7.5, ha='center', va='center')

# axes alternate round the outside of the matrix
tick_style = dict(length=4, width=0.8, labelsize=6.6, color='#222222')

ax = axes[3][0]
ax.set_xlim(f_lim)
ax.set_xticks(f_ticks, f_labels)
ax.tick_params(axis='x', bottom=True, pad=7, **tick_style)

ax = axes[3][2]
ax.set_xlim(zp_lim)
ax.set_xticks(zp_ticks, zp_labels)
ax.tick_params(axis='x', bottom=True, pad=7, **tick_style)

ax = axes[0][1]
ax.set_xticks(sdr_ticks, sdr_labels)
ax.tick_params(axis='x', top=True, labeltop=True, bottom=False, labelbottom=False, pad=5, **tick_style)

ax = axes[0][3]
ax.set_xticks(zn_ticks, zn_labels)
ax.tick_params(axis='x', top=True, labeltop=True, bottom=False, labelbottom=False, pad=5, **tick_style)

ax = axes[1][0]
ax.set_ylim(sdr_lim)
ax.set_yticks(sdr_ticks, sdr_labels)
ax.tick_params(axis='y', left=True, pad=4.5, labelrotation=90, **tick_style)
for t in ax.get_yticklabels():
    t.set_va('center')

ax = axes[3][0]
ax.set_ylim(zn_lim)
ax.set_yticks(zn_ticks, zn_labels)
ax.tick_params(axis='y', left=True, pad=4.5, labelrotation=90, **tick_style)
for t in ax.get_yticklabels():
    t.set_va('center')

ax = axes[0][3]
ax.set_yticks(f_ticks, f_labels)
ax.tick_params(axis='y', right=True, labelright=True, left=False, labelleft=False, pad=7, labelrotation=90, **tick_style)
for t in ax.get_yticklabels():
    t.set_va('center')

ax = axes[2][3]
ax.set_yticks(zp_ticks, zp_labels)
ax.tick_params(axis='y', right=True, labelright=True, left=False, labelleft=False, pad=7, labelrotation=90, **tick_style)
for t in ax.get_yticklabels():
    t.set_va('center')

fig.savefig("out.png", dpi=100)
